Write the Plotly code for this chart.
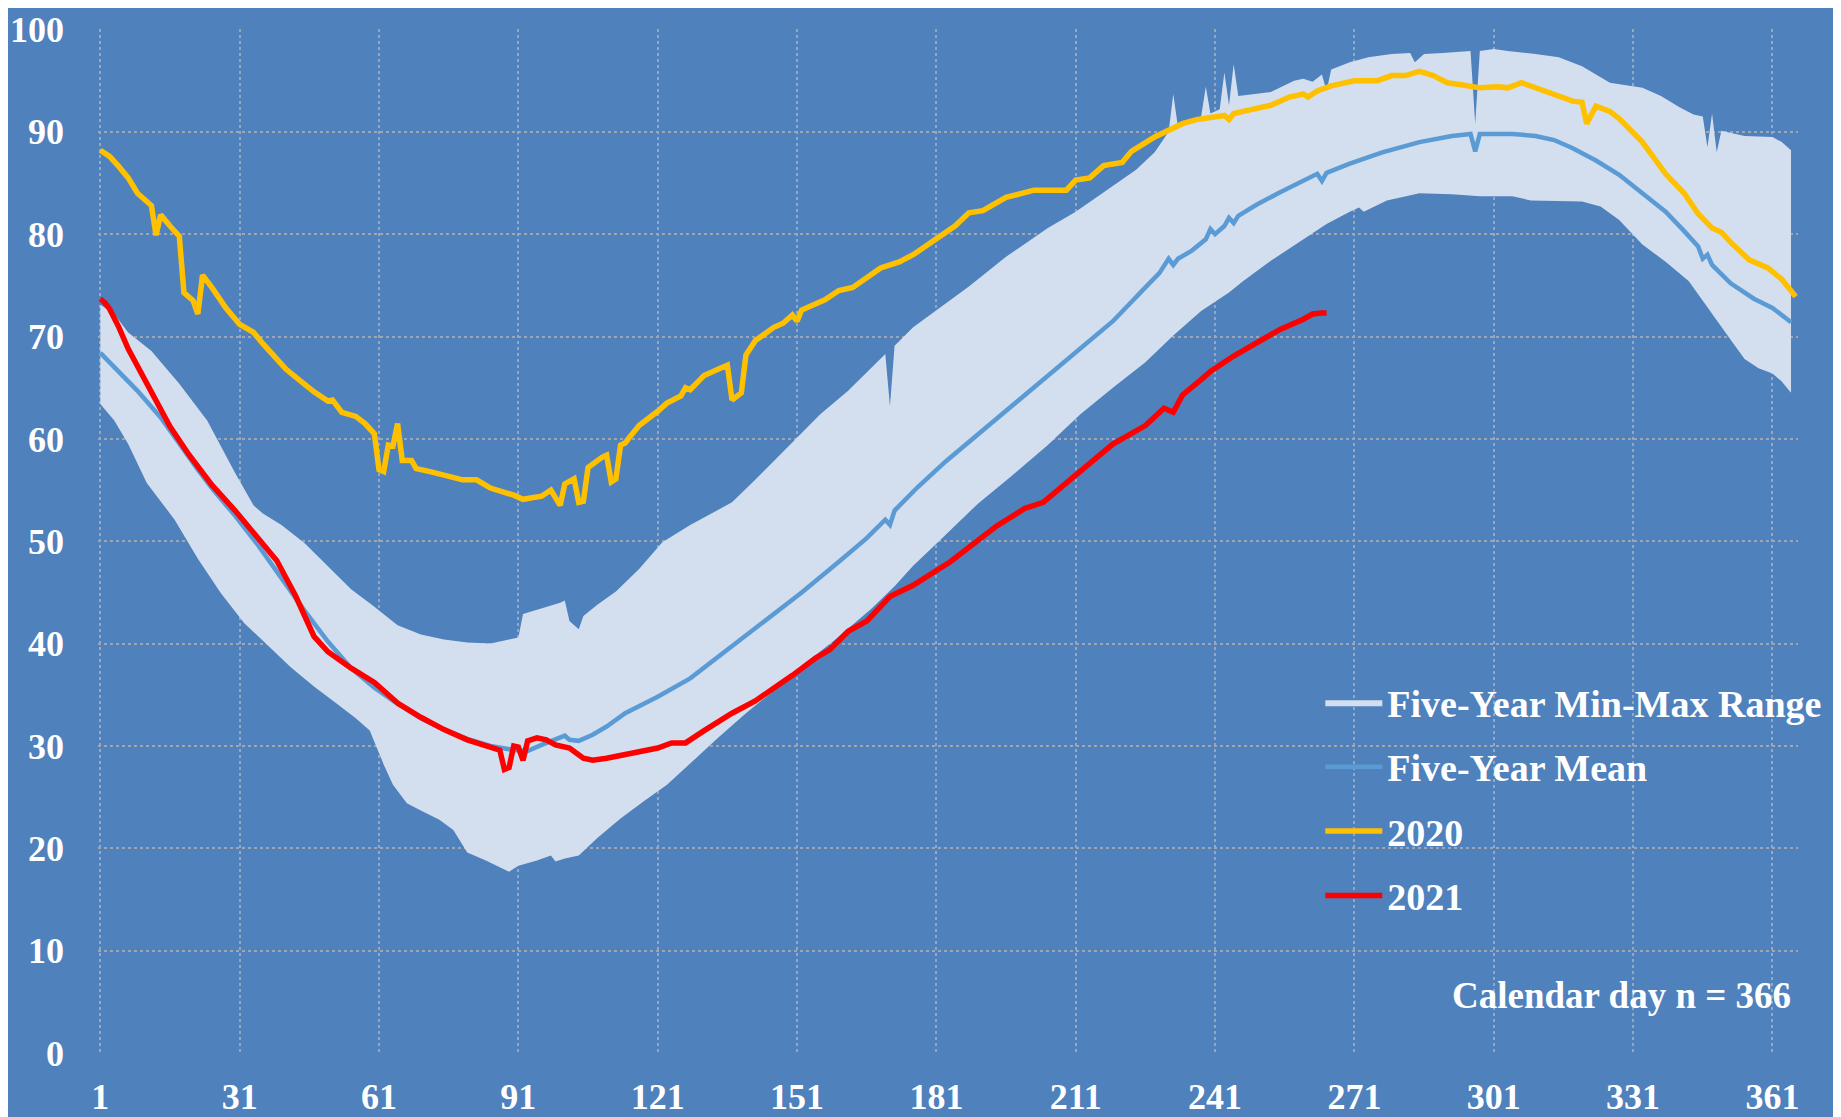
import plotly.graph_objects as go

# ---------------- data ----------------
tick_days = [1, 31, 61, 91, 121, 151, 181, 211, 241, 271, 301, 331, 361]
y_ticks = [0, 10, 20, 30, 40, 50, 60, 70, 80, 90, 100]

max_days = [1, 4, 7, 12, 18, 24, 30, 34, 36, 40, 45, 50, 55, 60, 65, 70, 75, 80, 85, 88, 90, 91,
            92, 95, 98, 100, 101, 102, 104, 105, 108, 112, 117, 122, 128, 133, 137, 142, 146, 150,
            156, 162, 168, 170, 171, 172, 176, 181, 188, 196, 205, 211, 219, 224, 228, 231, 232,
            233, 236, 238, 239, 240, 242, 243, 244, 245, 246, 250, 253, 258, 260, 262, 264, 265,
            266, 270, 274, 279, 283, 284, 286, 290, 296, 297, 298, 301, 304, 310, 315, 320, 324,
            326, 333, 337, 341, 344, 346, 347, 348, 349, 350, 355, 361, 363, 365]
max_vals = [73.1, 72.2, 70.4, 68.6, 65.4, 61.8, 56.7, 53.5, 52.7, 51.6, 49.8, 47.5, 45.3, 43.6,
            41.8, 40.9, 40.4, 40.1, 40.0, 40.3, 40.5, 40.6, 42.9, 43.3, 43.7, 44.0, 44.2, 42.2,
            41.4, 42.7, 43.8, 45.1, 47.3, 49.9, 51.6, 52.8, 53.8, 56.0, 57.8, 59.6, 62.4, 64.7,
            67.4, 68.3, 63.2, 69.1, 70.9, 72.6, 74.9, 77.8, 80.6, 82.2, 84.7, 86.3, 88.0, 90.0,
            93.7, 90.5, 91.2, 91.5, 94.4, 91.8, 92.2, 95.8, 92.6, 96.6, 93.5, 93.7, 93.9, 95.0,
            95.2, 94.9, 95.6, 94.0, 96.1, 96.8, 97.3, 97.6, 97.7, 96.8, 97.6, 97.7, 97.9, 90.8,
            97.9, 98.1, 97.9, 97.6, 97.3, 96.4, 95.3, 94.8, 94.3, 93.5, 92.4, 91.7, 91.5, 88.5,
            91.8, 88.0, 90.1, 89.6, 89.5, 89.0, 88.2]

min_days = [1, 4, 7, 11, 17, 22, 27, 32, 37, 42, 47, 52, 56, 59, 62, 64, 67, 70, 74, 77, 80, 84,
            89, 91, 95, 98, 99, 101, 104, 108, 113, 118, 123, 128, 134, 140, 146, 152, 159, 167,
            172, 176, 182, 190, 197, 205, 212, 219, 226, 232, 238, 244, 247, 253, 259, 265, 270,
            272, 273, 278, 285, 292, 298, 305, 309, 320, 324, 328, 333, 338, 343, 348, 352, 355,
            358, 361, 363, 365]
min_vals = [63.4, 61.8, 59.5, 55.7, 52.1, 48.3, 44.9, 42.0, 39.8, 37.7, 35.8, 34.1, 32.7, 31.5,
            28.2, 26.2, 24.4, 23.7, 22.8, 21.8, 19.6, 18.8, 17.7, 18.3, 18.8, 19.3, 18.7, 19.0,
            19.3, 21.0, 22.9, 24.6, 26.2, 28.3, 30.8, 33.2, 35.4, 37.8, 40.3, 43.4, 45.6, 47.6,
            50.2, 53.7, 56.3, 59.4, 62.4, 65.0, 67.5, 70.1, 72.5, 74.3, 75.4, 77.4, 79.2, 81.0,
            82.2, 82.6, 82.2, 83.3, 84.0, 83.9, 83.7, 83.7, 83.3, 83.2, 82.7, 81.4, 79.0, 77.3,
            75.4, 72.2, 69.7, 67.8, 66.9, 66.4, 65.6, 64.5]

mean_days = [1, 4, 9, 14, 18, 22, 25, 30, 35, 40, 45, 50, 55, 60, 65, 70, 75, 80, 85, 90, 93, 96,
             98, 101, 102, 104, 107, 110, 114, 121, 128, 136, 144, 152, 160, 166, 170, 171, 172,
             177, 183, 188, 194, 200, 205, 212, 219, 226, 229, 231, 232, 233, 236, 239, 240, 241,
             243, 244, 245, 246, 250, 255, 260, 263, 264, 265, 270, 277, 285, 292, 296, 297, 298,
             305, 310, 314, 318, 323, 328, 333, 338, 342, 345, 346, 347, 348, 352, 357, 361, 365]
mean_vals = [68.4, 67.0, 64.7, 62.1, 59.5, 57.0, 55.2, 52.5, 49.6, 46.4, 43.2, 40.2, 37.6, 35.7,
             34.1, 32.7, 31.6, 30.7, 30.0, 29.6, 29.5, 30.1, 30.5, 31.0, 30.6, 30.5, 31.1, 31.9,
             33.2, 34.8, 36.6, 39.4, 42.2, 45.0, 48.0, 50.3, 52.1, 51.6, 53.0, 55.3, 57.8, 59.7,
             61.9, 64.2, 66.1, 68.8, 71.5, 74.8, 76.2, 77.6, 77.0, 77.6, 78.4, 79.5, 80.5, 80.0,
             80.8, 81.6, 81.1, 81.8, 82.9, 84.1, 85.3, 85.9, 85.2, 86.0, 86.9, 88.0, 89.0, 89.6,
             89.8, 88.1, 89.8, 89.8, 89.6, 89.2, 88.4, 87.2, 85.8, 84.0, 82.2, 80.3, 78.8, 77.6,
             78.0, 77.0, 75.2, 73.7, 72.8, 71.4]

y2020_days = [1, 3, 5, 7, 9, 12, 13, 14, 16, 18, 19, 21, 22, 23, 25, 28, 31, 34, 36, 38, 41, 44,
              47, 50, 51, 53, 56, 58, 60, 61, 62, 63, 64, 65, 66, 68, 69, 72, 76, 79, 82, 85, 90,
              92, 96, 98, 100, 101, 103, 104, 105, 106, 109, 110, 111, 112, 113, 114, 115, 117,
              121, 123, 126, 127, 128, 131, 134, 136, 137, 139, 140, 142, 146, 148, 150, 151, 152,
              157, 160, 163, 169, 173, 176, 181, 185, 188, 191, 196, 202, 209, 211, 214, 217, 221,
              223, 228, 232, 234, 237, 241, 243, 244, 245, 249, 253, 257, 260, 261, 263, 266, 271,
              276, 279, 282, 285, 288, 291, 294, 298, 302, 304, 307, 312, 315, 318, 320, 321, 323,
              326, 328, 333, 338, 342, 345, 348, 350, 352, 356, 360, 363, 366]
y2020_vals = [88.2, 87.6, 86.6, 85.5, 84.0, 82.8, 79.9, 81.9, 80.8, 79.8, 74.3, 73.5, 72.2, 76.0,
              74.8, 72.8, 71.2, 70.4, 69.3, 68.3, 66.8, 65.7, 64.6, 63.7, 63.8, 62.6, 62.2, 61.5,
              60.5, 57.0, 56.8, 59.4, 59.3, 61.5, 57.9, 57.9, 57.1, 56.8, 56.3, 56.0, 56.0, 55.2,
              54.5, 54.1, 54.4, 55.0, 53.5, 55.6, 56.1, 53.8, 53.9, 57.2, 58.2, 58.4, 55.8, 56.1,
              59.4, 59.6, 60.2, 61.3, 62.7, 63.5, 64.2, 65.0, 64.8, 66.2, 66.8, 67.2, 63.8, 64.5,
              68.2, 69.6, 70.9, 71.3, 72.1, 71.5, 72.6, 73.6, 74.5, 74.8, 76.7, 77.3, 78.0, 79.5,
              80.8, 82.1, 82.3, 83.6, 84.3, 84.3, 85.3, 85.5, 86.7, 87.0, 88.1, 89.5, 90.4, 90.8,
              91.2, 91.4, 91.6, 91.2, 91.8, 92.2, 92.6, 93.4, 93.7, 93.4, 94.0, 94.5, 95.0, 95.0,
              95.5, 95.5, 95.9, 95.5, 94.8, 94.6, 94.3, 94.4, 94.3, 94.8, 94.0, 93.6, 93.0, 92.9,
              90.8, 92.5, 92.0, 91.3, 89.0, 85.9, 84.0, 82.0, 80.6, 80.2, 79.2, 77.5, 76.7, 75.6,
              73.9]

y2021_days = [1, 2, 3, 5, 7, 10, 13, 16, 20, 25, 30, 35, 39, 43, 47, 50, 55, 60, 65, 70, 75, 80,
              85, 87, 88, 89, 90, 91, 92, 93, 95, 97, 99, 102, 105, 107, 110, 115, 121, 124, 127,
              131, 137, 142, 148, 150, 155, 158, 162, 166, 171, 176, 184, 188, 194, 200, 204, 209,
              214, 219, 226, 230, 232, 234, 238, 240, 245, 250, 255, 260, 262, 264, 265]
y2021_vals = [73.7, 73.3, 72.7, 70.9, 68.8, 66.2, 63.8, 61.2, 58.5, 55.5, 53.0, 50.3, 48.1, 44.7,
              40.7, 39.2, 37.6, 36.2, 34.2, 32.8, 31.6, 30.6, 29.8, 29.6, 27.7, 27.9, 30.0, 29.9,
              28.6, 30.5, 30.8, 30.6, 30.1, 29.8, 28.8, 28.6, 28.8, 29.3, 29.8, 30.3, 30.3, 31.5,
              33.2, 34.4, 36.2, 36.9, 38.6, 39.4, 41.2, 42.2, 44.6, 45.7, 48.0, 49.4, 51.5, 53.2,
              53.8, 55.7, 57.6, 59.5, 61.3, 63.0, 62.6, 64.3, 65.8, 66.6, 68.1, 69.4, 70.7, 71.7,
              72.2, 72.3, 72.3]

# ---------------- styling ----------------
BG = "#4F81BD"
BAND = "#D3DFEE"
MEAN = "#5B9BD5"
C2020 = "#FFC000"
C2021 = "#FF0000"
GRID = "#9DA6B5"
FONT = "Liberation Serif"

fig = go.Figure()

band_x = max_days + min_days[::-1]
band_y = max_vals + min_vals[::-1]
fig.add_trace(go.Scatter(x=band_x, y=band_y, mode="lines", fill="toself",
                         fillcolor=BAND, line=dict(width=0, color=BAND),
                         name="Five-Year Min-Max Range", legendgroup="a",
                         hoverinfo="skip"))
fig.add_trace(go.Scatter(x=mean_days, y=mean_vals, mode="lines",
                         line=dict(color=MEAN, width=4.5), name="Five-Year Mean",
                         legendgroup="b"))
fig.add_trace(go.Scatter(x=y2020_days, y=y2020_vals, mode="lines",
                         line=dict(color=C2020, width=5.5), name="2020", legendgroup="c"))
fig.add_trace(go.Scatter(x=y2021_days, y=y2021_vals, mode="lines",
                         line=dict(color=C2021, width=5.5), name="2021", legendgroup="d"))

fig.add_annotation(text="Calendar day n = 366", xref="paper", yref="paper",
                   x=0.997, y=0.056, xanchor="right", yanchor="middle", showarrow=False,
                   font=dict(family=FONT, size=37, color="white", weight="bold"))

fig.update_layout(
    width=1841, height=1117,
    paper_bgcolor=BG, plot_bgcolor=BG,
    margin=dict(l=90, r=51, t=21, b=72, autoexpand=False),
    showlegend=True,
    legend=dict(x=0.719, y=0.373, xanchor="left", yanchor="top",
                bgcolor="rgba(0,0,0,0)", traceorder="grouped", tracegroupgap=12,
                itemwidth=57,
                font=dict(family=FONT, size=38, color="white", weight="bold")),
    xaxis=dict(range=[0.5, 366.5], tickmode="array", tickvals=tick_days,
               ticktext=[str(d) for d in tick_days], showgrid=True, gridcolor=GRID,
               griddash="dot", gridwidth=1.5, zeroline=False, showline=False,
               ticks="", ticklabelstandoff=19, automargin=False,
               ticklabeloverflow="allow",
               tickfont=dict(family=FONT, size=36, color="white", weight="bold")),
    yaxis=dict(range=[0, 100.05], tickmode="array", tickvals=y_ticks,
               ticktext=[str(v) for v in y_ticks], showgrid=True, gridcolor=GRID,
               griddash="dot", gridwidth=1.5, zeroline=False, showline=False,
               ticks="", ticklabelstandoff=33, automargin=False,
               ticklabeloverflow="allow",
               tickfont=dict(family=FONT, size=36, color="white", weight="bold")),
)

fig.write_html("out.html")
